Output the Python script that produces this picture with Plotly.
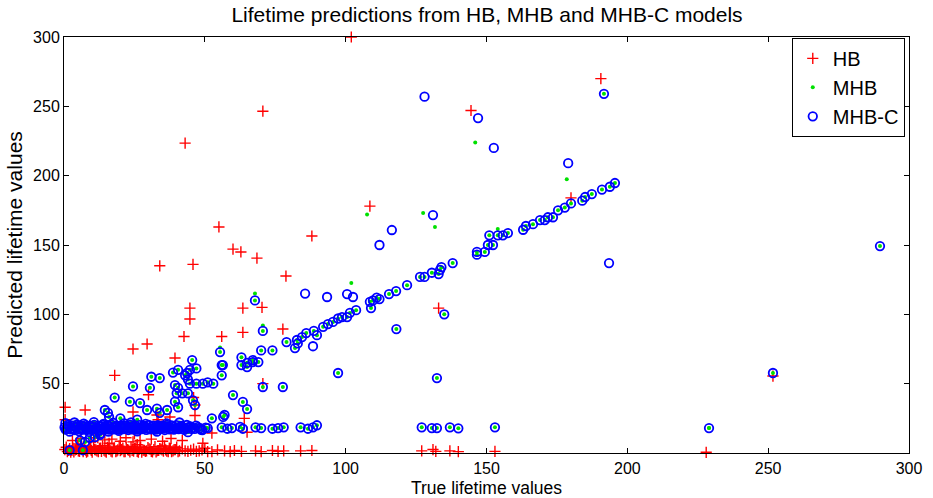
import plotly.graph_objects as go

# ---------------- data ----------------
# MHB-C predictions: dense band near 18 for short true lifetimes
band_x = [0.2, 0.9, 1.7, 2.6, 3.2, 4.1, 5.0, 5.6, 6.4, 7.3, 8.1, 8.7, 9.6, 10.5, 11.1, 12.0,
          12.9, 13.5, 14.4, 15.2, 15.9, 16.8, 17.6, 18.3, 19.2, 20.0, 20.7, 21.6, 22.5, 23.1,
          24.0, 24.8, 25.5, 26.4, 27.1, 28.0, 28.8, 29.5, 30.4, 31.2, 31.9, 32.8, 33.6, 34.3,
          35.2, 36.0, 36.7, 37.6, 38.4, 39.1, 40.0, 40.9, 41.5, 42.4, 43.3, 44.0, 44.9, 45.6,
          46.4, 47.5, 48.3, 49.1, 50.3,
          0.5, 2.0, 3.7, 5.3, 7.0, 8.9, 10.6, 12.3, 14.0, 15.8, 17.4, 19.5, 21.4, 23.8, 26.0,
          29.0, 33.0, 36.5, 41.0, 44.0,
          0.6, 1.4, 2.3, 3.0, 3.9, 4.6, 5.4, 6.1, 6.9, 7.6, 8.4, 9.1, 9.9, 10.7, 11.4, 12.2,
          13.0, 13.8, 14.6, 15.4, 16.1, 16.9, 17.7, 18.6, 19.4, 20.3, 21.1, 21.9, 22.8, 23.5,
          24.4, 25.2, 26.0, 26.8, 27.6, 28.4, 29.2, 30.1, 30.9, 31.7, 32.5, 33.3, 34.1, 34.9,
          35.8, 36.6, 37.4, 38.2, 39.0, 39.9, 40.7, 41.7, 42.7, 43.6, 45.1, 46.9, 48.6,
          51, 56, 58, 59.6, 62.5, 63.5, 68, 70, 74, 76, 78, 84, 86.6, 88.4, 89.8,
          127, 130.6, 132.4, 137, 140, 153, 229]
band_y = [18.5, 17.6, 19.2, 18.0, 17.2, 18.8, 19.6, 18.1, 17.5, 18.9, 18.2, 17.0, 19.4, 18.6,
          17.8, 18.3, 19.1, 17.4, 18.7, 18.0, 19.5, 17.7, 18.4, 18.9, 17.3, 18.1, 19.0, 18.5,
          17.6, 18.8, 18.2, 19.3, 17.9, 18.4, 17.5, 18.7, 19.2, 18.0, 17.6, 18.9, 18.3, 17.8,
          19.0, 18.4, 17.7, 18.6, 19.1, 18.0, 17.5, 18.8, 18.2, 17.9, 19.0, 18.3, 17.6, 18.5,
          19.2, 18.1, 17.4, 18.7, 18.0, 16.5, 18.3,
          21.5, 15.4, 22.0, 15.8, 21.2, 15.2, 22.3, 16.0, 21.0, 15.5, 21.8, 15.9, 21.3, 22.0,
          15.6, 21.0, 15.5, 21.4, 22.0, 15.0,
          16.8, 20.2, 17.1, 19.8, 16.6, 20.4, 17.3, 19.9, 16.9, 20.1, 17.4, 19.7, 16.7, 20.3,
          17.0, 19.6, 16.6, 20.2, 17.2, 19.9, 16.8, 20.4, 17.1, 19.8, 16.9, 20.0, 17.3, 19.7,
          16.6, 20.3, 17.0, 19.9, 16.8, 20.1, 17.2, 19.6, 16.7, 20.2, 17.1, 19.8, 16.9, 20.0,
          17.3, 19.7, 16.6, 20.3, 17.0, 19.9, 16.8, 20.1, 17.2, 19.6, 16.7, 20.2, 17.4, 19.8,
          16.9,
          18, 18.5, 17.5, 18, 18.8, 17.5, 18.5, 18, 17.5, 18, 18.5, 18.5, 17.5, 18.5, 20,
          18.5, 18, 18, 18.5, 17.8, 18.5, 18]

# MHB-C predictions close to the true value (diagonal)
diag_x = [2, 6.7, 7.5, 9.2, 11, 12.8, 5.7, 13, 14.5, 15.6, 16, 18, 20, 23.4, 24.5, 26, 27, 29.5,
          30.5, 31, 33, 34, 34, 36.6, 38.7, 39.4, 39.4, 40, 40.5, 40.5, 40.5, 42, 43, 43.7, 44,
          44, 44.7, 44.7, 45.5, 45.8, 46.5, 47, 47, 49.3, 51, 53, 52.5, 56.5, 55.4, 56, 56,
          56.4, 57, 60, 63, 63.5, 65, 65, 67, 69, 63, 65, 67, 70, 74, 79, 83, 67.8, 70.6,
          70.6, 77.7, 82, 82.7, 84.5, 86, 88.7, 89.8, 92, 93.7, 95.5, 97.3, 98.7, 100.5,
          101.5, 103.7, 108.6, 109.7, 111, 112, 109, 115.4, 117.9, 121.8, 126.4, 128, 130.6,
          133, 134, 133.5, 138, 146.6, 146.6, 149.4, 150.5, 152.3, 151, 154, 155.8, 157.6,
          163, 164, 166.5, 169, 170.7, 171.8, 173.6, 175.4, 177.8, 180, 184, 185, 187.4, 191,
          193.8, 195.6]
diag_y = [2, 2, 8, 11, 11.5, 13, 9, 14, 31, 29, 26, 40, 25, 37, 48, 24, 36, 31, 47, 55, 32,
          54, 29, 31, 58, 37, 49, 43, 60, 47, 33, 43, 56, 57.7, 43, 53, 50, 60, 67, 38, 34.6,
          61, 50, 50, 51, 50, 25, 26, 72.8, 56, 63.4, 63.4, 27.4, 41.8, 63.4, 36.8, 31.7, 65,
          65.6, 65.6, 69, 62, 67, 74, 74, 80, 79, 110, 88, 47.6, 47.6, 75.7, 81.5, 83.6, 86.5,
          88, 85, 91, 93, 94.5, 97, 98, 98, 101, 103, 109, 110, 112, 111, 104.5, 114.6, 116.8,
          121, 127, 127, 130, 129, 134, 132, 137, 145, 143, 145, 150, 150, 157, 157, 157,
          158.6, 161, 163.7, 165, 168, 168, 170, 170, 175, 177, 180, 182, 184.6, 186.7, 190,
          192, 194.7]

# MHB-C outliers
out_x = [128, 147, 152.6, 179, 191.7, 131, 112, 116.4, 85.6, 93.4, 100.5, 102.6, 135, 118,
         88.4, 132.4, 97.3, 193.5, 289.7, 251.7]
out_y = [257, 241.5, 220, 209, 259, 171.6, 150, 160.8, 115, 112.5, 114.6, 112.5, 100, 89.4,
         77, 54, 57.7, 137, 149.2, 57.7]

# MHB points that do not sit inside a MHB-C circle
mhb_extra_x = [127.5, 131.7, 154, 178.5, 102, 107.6, 67.8, 70.6, 55.4, 132.4, 97.3, 135, 118,
               191.7, 251.7, 229, 146, 289.7]
mhb_extra_y = [173, 163, 161.5, 197.5, 122.6, 172, 115, 92, 76, 54, 57.7, 100, 89.4,
               259, 57.7, 18, 224, 149.2]

# HB predictions
hb_x = [0.3, 1.2, 2.0, 2.8, 3.5, 4.4, 5.1, 6.0, 6.8, 7.7, 8.4, 9.3, 10.0, 10.9, 11.7, 12.6,
        13.3, 14.2, 15.0, 15.8, 16.7, 17.5, 18.4, 19.1, 20.0, 20.9, 21.7, 22.6, 23.4, 24.2,
        25.1, 26.0, 26.8, 27.6, 28.5, 29.3, 30.2, 31.0, 31.9, 32.7, 33.6, 34.4, 35.3, 36.1,
        37.0, 37.8, 38.7, 39.5, 40.5, 43, 45, 47, 49, 51, 57, 59, 60.5, 63, 68, 70, 74, 76,
        78, 84, 88, 127, 131, 132, 137, 140, 153, 228,
        0.8, 1.6, 2.4, 3.1, 4.0, 4.8, 5.5, 6.3, 7.2, 8.0, 8.9, 9.7, 10.5, 11.3, 12.2, 13.0,
        13.7, 14.6, 15.4, 16.3, 17.1, 17.9, 18.8, 19.6, 20.5, 21.3, 22.1, 23.0, 23.8, 24.7,
        25.5, 26.4, 27.2, 28.1, 28.9, 29.8, 30.6, 31.4, 32.3, 33.1, 34.0, 34.8, 35.7, 36.5,
        37.4, 38.2, 39.1, 40.0, 41.0, 42.0, 44.0, 46.0, 48.0, 50.0, 52.5, 54.5,
        3, 6, 9.5, 12, 14.5, 17, 20, 22, 27, 31, 35, 38, 42, 5, 16, 26,
        102, 43, 70.6, 55, 60, 62.8, 68.5, 88, 34, 45.8, 78.8, 44.7, 44.7, 63.5, 70.3, 42.6,
        63.5, 56, 77.7, 24.5, 29.5, 39.4, 18, 0.4, 7.5, 0.4, 24.5, 30, 33, 37.6, 46, 46.5,
        46.5, 52.5, 49.3, 33.4, 36, 25, 24.5, 65, 64, 70.6, 133, 190.6, 108.6, 144.5, 180,
        251.7, 11, 14, 16]
hb_y = [2.5, 1.0, 3.2, 1.8, 0.8, 2.6, 1.5, 3.4, 0.9, 2.1, 1.3, 3.0, 0.7, 2.4, 1.6, 3.3, 1.1,
        2.0, 0.6, 2.8, 1.4, 3.1, 0.9, 2.2, 1.7, 3.5, 1.0, 2.5, 0.8, 1.9, 3.2, 1.2, 2.7, 0.7,
        2.0, 1.5, 3.0, 1.1, 2.4, 0.8, 1.8, 2.9, 1.3, 2.2, 0.9, 3.1, 1.6, 2.5, 1.0, 1.5, 2.0,
        1.2, 2.2, 1.0, 1.5, 1.0, 1.8, 1.2, 1.5, 1.0, 1.8, 1.2, 1.5, 1.5, 1.8, 1.5, 2.5, 1.2,
        1.5, 1.0, 1.2, 0.5,
        4.2, 1.9, 0.6, 3.8, 2.3, 5.0, 1.2, 4.4, 2.8, 0.7, 3.9, 1.8, 4.7, 2.2, 0.9, 3.6, 5.2,
        1.4, 4.1, 2.6, 0.8, 3.7, 1.6, 4.9, 2.4, 1.0, 3.8, 2.0, 4.5, 1.3, 3.3, 0.7, 4.3, 2.1,
        1.1, 3.9, 2.7, 0.8, 4.6, 1.7, 3.2, 2.3, 5.0, 1.4, 3.6, 0.9, 2.5, 4.2, 1.6, 3.0, 1.2,
        2.8, 1.5, 3.4, 1.0, 2.2,
        9, 10.5, 8, 11, 9.5, 10, 8.5, 11, 9, 10, 8.5, 10.5, 9, 6.5, 7, 6,
        300, 223.5, 246.5, 163, 147, 145, 140.5, 156.5, 135, 136, 127.6, 104.5, 96.6, 104.5,
        105, 84, 87, 84, 89.4, 75, 78.6, 68.5, 56, 33, 31, 24, 29.6, 42, 27.4, 26, 40, 34.6,
        27, 14.4, 7, 24, 21.6, 14, 8, 15, 25, 50, 104.5, 270, 178, 247, 184, 55.5, 11, 15,
        18]

# MHB equals MHB-C on the band and the diagonal
mhb_x = band_x + diag_x + mhb_extra_x
mhb_y = band_y + diag_y + mhb_extra_y
mhbc_x = band_x + diag_x + out_x
mhbc_y = band_y + diag_y + out_y

x_ticks = [0, 50, 100, 150, 200, 250, 300]
y_ticks = [50, 100, 150, 200, 250, 300]

FONT = "Liberation Sans, Arial, Helvetica, sans-serif"

fig = go.Figure()
fig.add_trace(go.Scatter(
    x=hb_x, y=hb_y, mode="markers", name="HB", cliponaxis=False,
    marker=dict(symbol="cross-thin", size=8, color="#ff0000",
                line=dict(color="#ff0000", width=1.4))))
fig.add_trace(go.Scatter(
    x=mhb_x, y=mhb_y, mode="markers", name="MHB", cliponaxis=False,
    marker=dict(symbol="circle", size=4, color="#00e000", line=dict(width=0))))
fig.add_trace(go.Scatter(
    x=mhbc_x, y=mhbc_y, mode="markers", name="MHB-C", cliponaxis=False,
    marker=dict(symbol="circle-open", size=8.5, color="#0000ff",
                line=dict(color="#0000ff", width=1.8))))

axis_common = dict(
    showgrid=False, zeroline=False, showline=True, linecolor="black", linewidth=1,
    mirror="ticks", ticks="inside", ticklen=5, tickcolor="black", automargin=False,
    tickfont=dict(family=FONT, size=16, color="black"),
)
fig.update_xaxes(range=[0, 300], tickvals=x_ticks, ticklabelstandoff=1, **axis_common)
fig.update_yaxes(range=[0, 300], tickvals=y_ticks, **axis_common,
                 title=dict(text="Predicted lifetime values", standoff=4,
                            font=dict(family=FONT, size=21, color="black")))

fig.add_annotation(text="True lifetime values", xref="paper", yref="paper",
                   x=0.5, y=-0.085, xanchor="center", yanchor="middle",
                   showarrow=False, font=dict(family=FONT, size=17.5, color="black"))

fig.update_layout(
    width=933, height=498,
    margin=dict(l=64, r=24, t=37, b=45),
    paper_bgcolor="white", plot_bgcolor="white",
    title=dict(text="Lifetime predictions from HB, MHB and MHB-C models",
               x=0.522, xanchor="center", y=0.985, yanchor="top",
               font=dict(family=FONT, size=21, color="black")),
    legend=dict(x=0.995, y=0.998, xanchor="right", yanchor="top",
                bgcolor="white", bordercolor="black", borderwidth=1,
                font=dict(family=FONT, size=20, color="black"),
                itemsizing="trace"),
    showlegend=True,
)

fig.write_html("out.html")
